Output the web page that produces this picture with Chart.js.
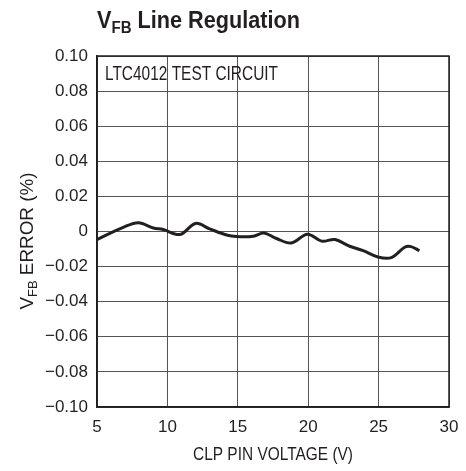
<!DOCTYPE html>
<html>
<head>
<meta charset="utf-8">
<script src="https://cdn.jsdelivr.net/npm/chart.js@4"></script>
<style>
  html, body { margin: 0; padding: 0; background: #fff; }
  #wrap { width: 466px; height: 471px; position: relative; }
</style>
</head>
<body>
<div id="wrap"><canvas id="chart" width="466" height="471"></canvas></div>
<script>
// CLP pin voltage (V) and VFB error (%)
const clpVoltage = [5.0, 6.9, 7.95, 9.0, 9.7, 10.9, 12.0, 13.0, 14.2, 14.9, 16.1, 16.85, 17.75, 18.8, 19.95, 20.95, 21.9, 22.95, 23.9, 24.95, 25.9, 26.85, 27.3, 27.9];
const vfbError = [-0.0046, 0.0025, 0.005, 0.002, 0.0011, -0.0017, 0.0046, 0.0015, -0.002, -0.0029, -0.0027, -0.0008, -0.004, -0.0065, -0.0015, -0.0055, -0.0046, -0.0084, -0.0109, -0.0145, -0.0149, -0.009, -0.0086, -0.0109];
const xTicks = [5, 10, 15, 20, 25, 30];
const yTicks = [-0.10, -0.08, -0.06, -0.04, -0.02, 0, 0.02, 0.04, 0.06, 0.08, 0.10];

const FONT = '"Liberation Sans", Arial, sans-serif';
const INK = '#231f20';

function fmtY(v) {
  if (Math.abs(v) < 1e-9) return '0';
  const s = Math.abs(v).toFixed(2);
  return v < 0 ? '\u2212' + s : s;
}

function partFont(sub, size, bold) {
  const fs = sub ? Math.round(size * 0.68) : size;
  return (bold ? 'bold ' : '') + fs + 'px ' + FONT;
}

function richWidth(ctx, parts, size, bold) {
  let w = 0;
  parts.forEach(([txt, sub]) => {
    ctx.font = partFont(sub, size, bold);
    w += ctx.measureText(txt).width;
  });
  return w;
}

// draws text (with optional subscript parts) squeezed to a given width, like a condensed face
function drawRich(ctx, parts, x, y, size, bold, width, align) {
  const natural = richWidth(ctx, parts, size, bold);
  const sx = width / natural;
  ctx.save();
  ctx.translate(align === 'center' ? x - width / 2 : x, y);
  ctx.scale(sx, 1);
  let cx = 0;
  parts.forEach(([txt, sub]) => {
    ctx.font = partFont(sub, size, bold);
    ctx.fillText(txt, cx, sub ? size * 0.22 : 0);
    cx += ctx.measureText(txt).width;
  });
  ctx.restore();
}

const textPlugin = {
  id: 'texts',
  afterDraw(chart) {
    const ctx = chart.ctx;
    const a = chart.chartArea;
    ctx.save();
    ctx.fillStyle = INK;
    ctx.textBaseline = 'alphabetic';
    ctx.textAlign = 'left';

    // frame
    ctx.strokeStyle = INK;
    ctx.lineWidth = 1.5;
    ctx.strokeRect(a.left, a.top, a.right - a.left, a.bottom - a.top);

    // title
    drawRich(ctx, [['V', false], ['FB', true], [' Line Regulation', false]], 97, 28, 23, true, 203);

    // note inside plot
    drawRich(ctx, [['LTC4012 TEST CIRCUIT', false]], 105, 80, 20, false, 173);

    // x axis title
    drawRich(ctx, [['CLP PIN VOLTAGE (V)', false]], (a.left + a.right) / 2, 460, 18, false, 160, 'center');

    // y axis title, rotated
    ctx.translate(33, 241);
    ctx.rotate(-Math.PI / 2);
    drawRich(ctx, [['V', false], ['FB', true], [' ERROR (%)', false]], 0, 0, 19, false, 137, 'center');
    ctx.restore();
  }
};

new Chart(document.getElementById('chart'), {
  type: 'scatter',
  data: {
    datasets: [{
      data: clpVoltage.map((v, i) => ({ x: v, y: vfbError[i] })),
      showLine: true,
      borderColor: INK,
      borderWidth: 3,
      pointRadius: 0,
      tension: 0.35,
      fill: false
    }]
  },
  options: {
    responsive: false,
    animation: false,
    layout: { padding: { top: 56, right: 17, left: 0, bottom: 0 } },
    plugins: { legend: { display: false }, tooltip: { enabled: false } },
    scales: {
      x: {
        type: 'linear',
        min: 5, max: 30,
        afterBuildTicks: s => { s.ticks = xTicks.map(v => ({ value: v })); },
        afterFit: s => { s.height = 64; s.paddingLeft = 0; s.paddingRight = 0; },
        grid: { color: '#555', lineWidth: 1, drawTicks: false },
        border: { color: INK, width: 1.5 },
        ticks: { color: INK, font: { family: FONT, size: 17 }, padding: 10, maxRotation: 0 }
      },
      y: {
        min: -0.1, max: 0.1,
        afterBuildTicks: s => { s.ticks = yTicks.map(v => ({ value: v })); },
        afterFit: s => { s.width = 97; s.paddingTop = 0; s.paddingBottom = 0; },
        grid: { color: '#555', lineWidth: 1, drawTicks: false },
        border: { color: INK, width: 1.5 },
        ticks: { color: INK, font: { family: FONT, size: 17 }, padding: 9, callback: v => fmtY(v) }
      }
    }
  },
  plugins: [textPlugin]
});
</script>
</body>
</html>
